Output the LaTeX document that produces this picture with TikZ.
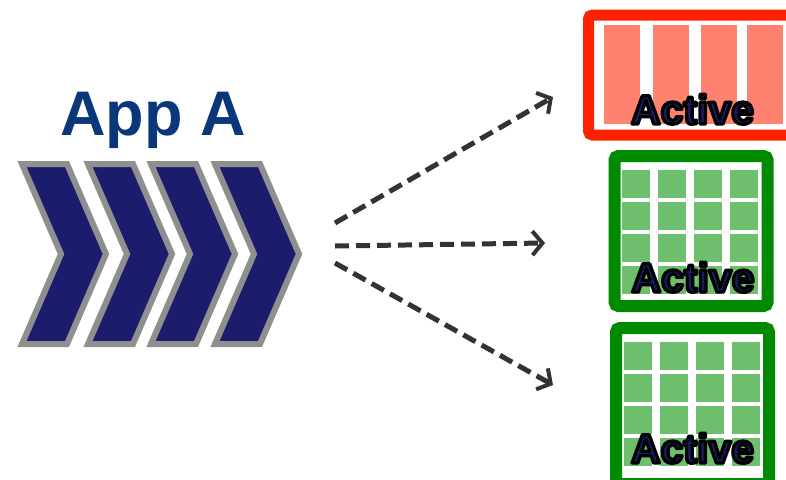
\documentclass[tikz,border=0pt]{standalone}
\usepackage{fontspec}
\setmainfont{Liberation Sans}
\usetikzlibrary{arrows.meta}
\definecolor{redbox}{HTML}{FF2200}
\definecolor{salmon}{HTML}{FF8270}
\definecolor{greenbox}{HTML}{008A00}
\definecolor{lightgreen}{HTML}{6DBE6D}
\definecolor{chevgray}{HTML}{8F8F8F}
\definecolor{chevnavy}{HTML}{1C1C6C}
\definecolor{textnavy}{HTML}{1B1B63}
\definecolor{appblue}{HTML}{0A367A}
\definecolor{arrowgray}{HTML}{333333}
\tikzset{
  chevron/.style={draw=chevgray, fill=chevnavy, line width=6pt, line join=miter},
  flow/.style={draw=arrowgray, line width=5pt, dash pattern=on 14pt off 7pt,
    -{Straight Barb[length=10pt,width=24pt,line width=4pt]}},
  redframe/.style={draw=redbox, fill=white, line width=11pt, rounded corners=4pt},
  greenframe/.style={draw=greenbox, fill=white, line width=12pt, rounded corners=4pt},
  bar/.style={fill=salmon},
  cell/.style={fill=lightgreen},
  activelabel/.style={anchor=base, font=\bfseries\fontsize{41}{41}\selectfont, text=textnavy, inner sep=0pt},
}
\newcommand{\activetext}{\special{pdf:literal direct 0 0 0 RG 3.2 w 1 j 2 Tr}Active\special{pdf:literal direct 0 Tr}}
\begin{document}
\begin{tikzpicture}[x=1pt,y=-1pt]
\useasboundingbox (0,0) rectangle (786,479);
\clip (0,0) rectangle (786,479);
% chevrons
\foreach \dx/\nm in {0/c1,66/c2,129/c3,193/c4}{
  \draw[chevron] (22+\dx,164) -- (67+\dx,164) -- (106+\dx,254) -- (67+\dx,344) -- (22+\dx,344) -- (61+\dx,254) -- cycle;
}
\node[font=\bfseries\fontsize{63}{63}\selectfont, text=appblue, anchor=base, inner sep=0pt] (title) at (153,135) {App A};
% red box
\draw[redframe] (588.5,15) rectangle (810,135);
\foreach \x in {604,653,701,747}{
  \fill[bar] (\x,25) rectangle (\x+36,124);
}
\node[activelabel] (act1) at (692.5,124) {\activetext};
% green box 1
\draw[greenframe] (614.5,156) rectangle (767.5,306);
\foreach \x in {622,658,694,730}{
  \foreach \y in {170,202,234,266}{
    \fill[cell] (\x,\y) rectangle (\x+28,\y+28);
  }
}
\node[activelabel] (act2) at (693,292) {\activetext};
% green box 2
\draw[greenframe] (616,328) rectangle (769,484);
\foreach \x in {624,660,696,732}{
  \foreach \y in {342,374,406,438}{
    \fill[cell] (\x,\y) rectangle (\x+28,\y+28);
  }
}
\node[activelabel] (act3) at (692.5,463) {\activetext};
% arrows
\coordinate (s1) at (335,223);
\coordinate (s2) at (335,246);
\coordinate (s3) at (335,263);
\coordinate (e1) at (553,97);
\coordinate (e2) at (545,243);
\coordinate (e3) at (553,385);
\draw[flow] (s1) -- (e1);
\draw[flow] (s2) -- (e2);
\draw[flow] (s3) -- (e3);
\end{tikzpicture}
\end{document}
